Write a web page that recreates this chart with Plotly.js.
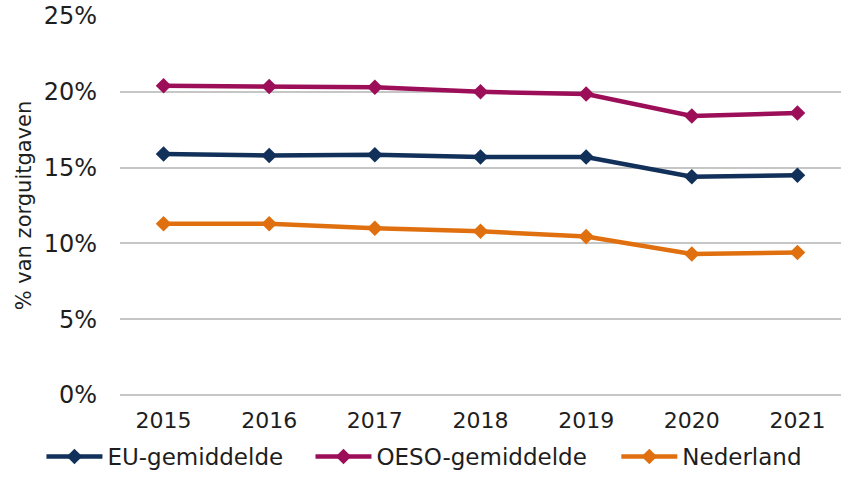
<!DOCTYPE html>
<html>
<head>
<meta charset="utf-8">
<script src="https://cdn.plot.ly/plotly-3.0.1.min.js"></script>
<style>html,body{margin:0;padding:0;background:#fff;}#chart{width:846px;height:478px;}</style>
</head>
<body>
<div id="chart"></div>
<script>
const years = ['2015','2016','2017','2018','2019','2020','2021'];
const euGemiddelde = [15.9, 15.8, 15.85, 15.7, 15.7, 14.4, 14.5];
const oesoGemiddelde = [20.4, 20.35, 20.3, 20.0, 19.85, 18.4, 18.6];
const nederland = [11.3, 11.3, 11.0, 10.8, 10.45, 9.3, 9.4];
const seriesNames = ['EU-gemiddelde', 'OESO-gemiddelde', 'Nederland'];
const yTicks = [0, 5, 10, 15, 20, 25];
const yTickLabels = yTicks.map(v => v + '%');

const colors = ['#11305a', '#9c0f58', '#e0700f'];
const legendIds = ['legend', 'legend2', 'legend3'];
const data = [euGemiddelde, oesoGemiddelde, nederland].map((v, i) => ({
  x: years, y: v, name: seriesNames[i], type: 'scatter', mode: 'lines+markers',
  line: {color: colors[i], width: 4.5},
  marker: {symbol: 'diamond', size: 12, color: colors[i]},
  legend: legendIds[i]
}));

const legendBase = (x) => ({orientation: 'h', xref: 'container', yref: 'container', x: x, y: 0,
  xanchor: 'left', yanchor: 'bottom', font: {size: 23, color: '#1e1e1e'}, itemwidth: 56, bgcolor: 'rgba(0,0,0,0)'});

const layout = {
  width: 846, height: 478,
  margin: {l: 120, r: 5, t: 16, b: 83},
  paper_bgcolor: '#fff', plot_bgcolor: '#fff',
  font: {family: 'DejaVu Sans, Verdana, sans-serif', color: '#1e1e1e', size: 20},
  showlegend: true,
  legend: legendBase(0.049),
  legend2: legendBase(0.367),
  legend3: legendBase(0.7285),
  xaxis: {type: 'category', showgrid: false, zeroline: false, showline: false, ticks: '',
    ticklabelstandoff: 10, tickfont: {size: 22, color: '#1e1e1e'}},
  yaxis: {range: [0, 25], tickvals: yTicks, ticktext: yTickLabels, showgrid: true, gridcolor: '#c6c6c6', gridwidth: 2,
    zeroline: true, zerolinecolor: '#c6c6c6', zerolinewidth: 2, showline: false, ticks: '', ticklabelstandoff: 22,
    tickfont: {size: 24, color: '#1e1e1e'},
    title: {text: '% van zorguitgaven', font: {size: 21, color: '#1e1e1e'}, standoff: 6}}
};
Plotly.newPlot('chart', data, layout, {displayModeBar: false, staticPlot: true});
</script>
</body>
</html>
